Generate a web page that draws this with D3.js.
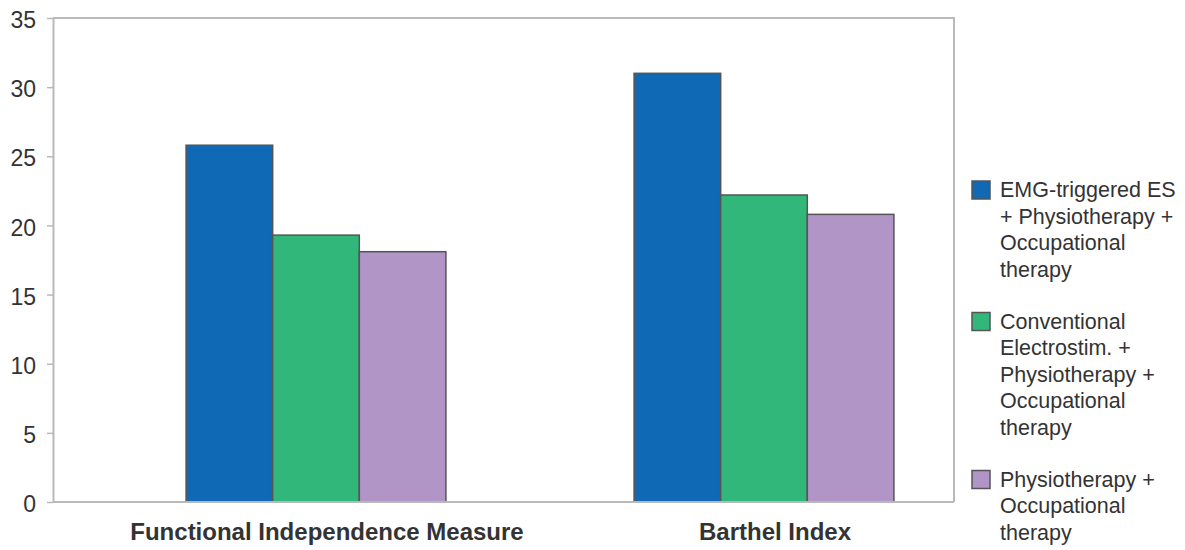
<!DOCTYPE html>
<html>
<head>
<meta charset="utf-8">
<script src="https://cdn.jsdelivr.net/npm/d3@7"></script>
<style>
  html, body { margin: 0; padding: 0; background: #fff; }
  svg { display: block; font-family: "Liberation Sans", Arial, sans-serif; }
</style>
</head>
<body>
<svg id="chart" width="1185" height="550"></svg>
<script>
// Outcome measures (groups along the x axis)
const categories = ["Functional Independence Measure", "Barthel Index"];

// Treatment arms (one bar per arm in each group)
const seriesNames = [
  "EMG-triggered ES + Physiotherapy + Occupational therapy",
  "Conventional Electrostim. + Physiotherapy + Occupational therapy",
  "Physiotherapy + Occupational therapy"
];

// Legend text, broken into the lines shown beside each swatch
const legendLines = [
  ["EMG-triggered ES", "+ Physiotherapy +", "Occupational", "therapy"],
  ["Conventional", "Electrostim. +", "Physiotherapy +", "Occupational", "therapy"],
  ["Physiotherapy +", "Occupational", "therapy"]
];

// Improvement scores per arm, ordered as categories
const emgValues = [25.8, 31.0];
const conventionalValues = [19.3, 22.2];
const physioValues = [18.1, 20.8];

const yTicks = [0, 5, 10, 15, 20, 25, 30, 35];
const colors = ["#0f69b4", "#31b77a", "#b095c6"];

const seriesValues = [emgValues, conventionalValues, physioValues];

const svg = d3.select("#chart");
const plot = { left: 53, right: 954, top: 18, bottom: 502 };
const textColor = "#333";
const frameColor = "#b9b9bc";

const y = d3.scaleLinear().domain([0, 35]).range([plot.bottom, plot.top]);

const x0 = d3.scaleBand()
  .domain(categories)
  .range([92, 988])
  .paddingInner(0.42)
  .paddingOuter(0.21);

const x1 = d3.scaleBand()
  .domain(d3.range(seriesNames.length))
  .range([0, x0.bandwidth()])
  .padding(0);

// Plot frame (top and right sides)
svg.append("path")
  .attr("d", `M${plot.left},${plot.top}H${plot.right}V${plot.bottom}`)
  .attr("fill", "none")
  .attr("stroke", frameColor)
  .attr("stroke-width", 2);

// Bars
const groups = svg.append("g").selectAll("g")
  .data(categories)
  .join("g")
  .attr("transform", d => `translate(${x0(d)},0)`);

groups.selectAll("rect")
  .data((d, ci) => seriesValues.map((vals, si) => ({ si, v: vals[ci] })))
  .join("rect")
  .attr("x", d => x1(d.si))
  .attr("width", x1.bandwidth())
  .attr("y", d => y(d.v))
  .attr("height", d => y(0) - y(d.v))
  .attr("fill", d => colors[d.si])
  .attr("stroke", "#555")
  .attr("stroke-width", 1.5);

// Y axis
const yAxis = svg.append("g")
  .attr("transform", `translate(${plot.left},0)`)
  .call(d3.axisLeft(y).tickValues(yTicks).tickSize(6).tickPadding(11).tickSizeOuter(0));
yAxis.select(".domain").attr("stroke", frameColor).attr("stroke-width", 2);
yAxis.selectAll(".tick line").attr("stroke", frameColor).attr("stroke-width", 1.5);
yAxis.selectAll(".tick text")
  .attr("fill", textColor)
  .attr("font-size", 23)
  .attr("font-family", "Liberation Sans, Arial, sans-serif")
  .attr("dy", "0.42em");

// X axis baseline and category labels
const xAxis = svg.append("g")
  .attr("transform", `translate(0,${plot.bottom})`)
  .call(d3.axisBottom(x0).tickSize(0).tickPadding(0));
xAxis.select(".domain")
  .attr("d", `M${plot.left},0H${plot.right}`)
  .attr("stroke", frameColor).attr("stroke-width", 2);
xAxis.selectAll(".tick text")
  .attr("fill", textColor)
  .attr("font-size", 24)
  .attr("font-weight", "bold")
  .attr("font-family", "Liberation Sans, Arial, sans-serif")
  .attr("x", 11)
  .attr("y", 38)
  .attr("dy", 0);

// Legend
const lineH = 26.5;
let baseline = 197;
const legend = svg.append("g");
legendLines.forEach((lines, i) => {
  const g = legend.append("g");
  g.append("rect")
    .attr("x", 972).attr("y", baseline - 16)
    .attr("width", 18).attr("height", 18)
    .attr("fill", colors[i])
    .attr("stroke", "#555").attr("stroke-width", 1.5);
  const t = g.append("text")
    .attr("x", 1000).attr("y", baseline)
    .attr("fill", textColor)
    .attr("font-size", 21.5);
  lines.forEach((ln, k) => {
    t.append("tspan").attr("x", 1000).attr("y", baseline + k * lineH).text(ln);
  });
  baseline += (lines.length + 1) * lineH - 1;
});
</script>
</body>
</html>
